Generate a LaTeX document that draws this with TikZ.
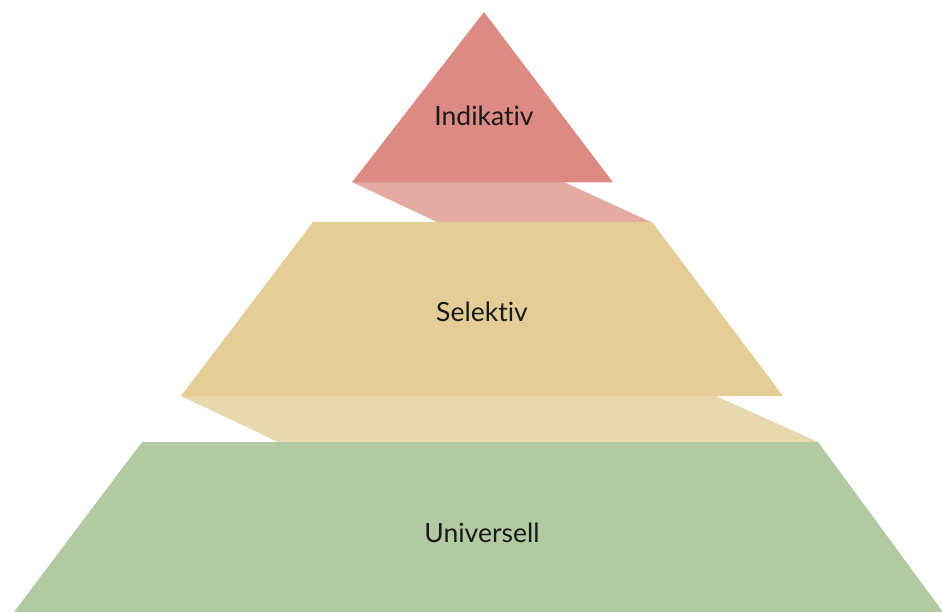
\documentclass[tikz,border=0pt]{standalone}
\usepackage{fontspec}
\setmainfont[Ligatures=NoCommon]{Lato}
\usepackage{tikz}
\usetikzlibrary{positioning}
\definecolor{indred}{HTML}{DE8A84}
\definecolor{indband}{HTML}{E4ABA3}
\definecolor{selyel}{HTML}{E4CD96}
\definecolor{selband}{HTML}{E8D8AD}
\definecolor{unigreen}{HTML}{B1CAA2}
\tikzset{level/.style={font=\fontsize{26.5}{30}\selectfont, text=black!90}}
\begin{document}
\begin{tikzpicture}[x=1pt, y=-1pt]
		\useasboundingbox (0,0) rectangle (942,611);
		\fill[indband] (352,182)--(564,182)--(652,222.5)--(438,222.5)--cycle;
		\fill[selband] (181,396)--(716,396)--(819,442.5)--(279,442.5)--cycle;
		\fill[indred] (484,12)--(613,182.3)--(352,182.3)--cycle;
		\fill[selyel] (313,222)--(652,222)--(783,396)--(181,396)--cycle;
		\fill[unigreen] (142,442)--(818,442)--(943,612)--(14,612)--cycle;
		\node[level] (ind) at (484,116) {Indikativ};
		\node[level] (sel) at (482,312) {Selektiv};
		\node[level] (uni) at (482,533) {Universell};
	\end{tikzpicture}
\end{document}
